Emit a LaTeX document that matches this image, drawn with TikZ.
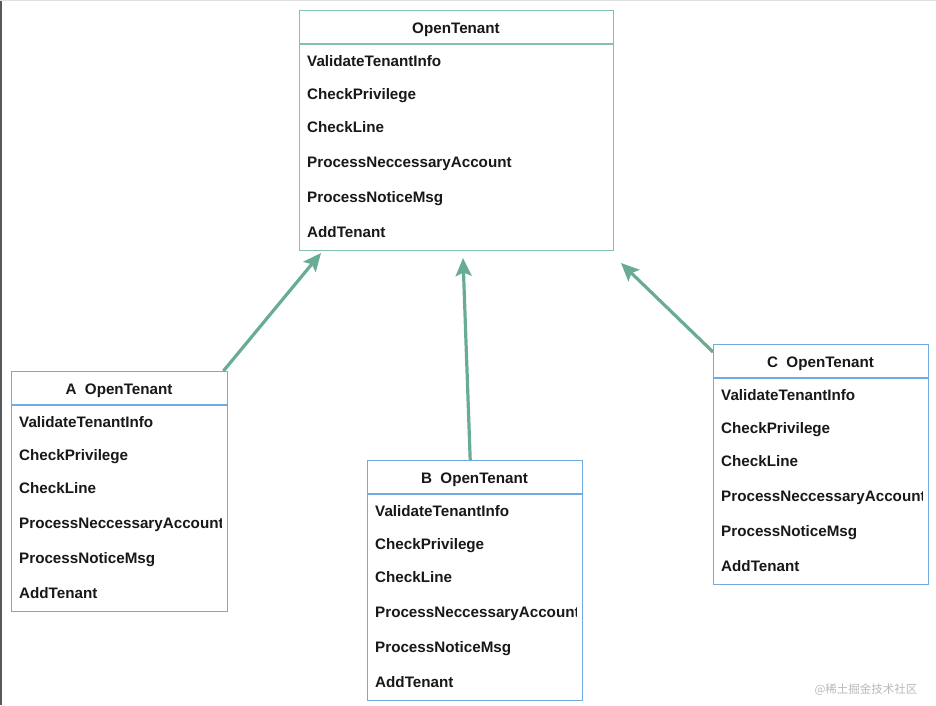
\documentclass[tikz,border=0pt]{standalone}
\usepackage{fontspec}
\setmainfont{Liberation Sans}
\newfontfamily\cjkfont{Noto Sans CJK SC}
\usetikzlibrary{arrows.meta,positioning}
\definecolor{greenline}{RGB}{132,192,172}
\definecolor{blueline}{RGB}{112,172,226}
\definecolor{flowgreen}{RGB}{104,172,150}
\definecolor{ink}{RGB}{24,24,24}

\begin{document}
\begin{tikzpicture}[x=1pt,y=-1pt,
  classbox/.style={draw=#1,line width=1.4pt,fill=white,rectangle,inner sep=0pt,
    minimum height=240pt,anchor=north west},
  boxtitle/.style={font=\fontsize{15.2}{18}\selectfont\bfseries,text=ink,inner sep=0pt,
    anchor=base},
  method/.style={font=\fontsize{15.2}{18}\selectfont\bfseries,text=ink,inner sep=0pt,
    anchor=base west},
  flow/.style={draw=flowgreen,line width=3.2pt,
    -{Stealth[length=18pt,width=16pt,inset=3.5pt]}}]
  \useasboundingbox (0,0) rectangle (936,705);
  % screen edges
  \draw[black!65,line width=2pt] (1,0) -- (1,705);
  \draw[black!12,line width=1pt] (0,0.5) -- (936,0.5);

  % the four OpenTenant boxes
  \foreach \n/\x/\y/\w/\t/\c in {top/299/10/314/OpenTenant/greenline,
      A/11/371/216/{A\ \ OpenTenant}/blueline,
      B/367/460/215/{B\ \ OpenTenant}/blueline,
      C/713/344/215/{C\ \ OpenTenant}/blueline}{
    \node[classbox=\c,minimum width=\w pt] (\n) at (\x,\y) {};
    \draw[\c,line width=1.4pt] (\x,\y+34) -- (\x+\w,\y+34);
    \node[boxtitle] (\n-title) at ({\x+\w/2},\y+23.5) {\t};
    \begin{scope}
      \clip (\x,\y) rectangle ({\x+\w-6},\y+240);
      \foreach \dy/\m [count=\k] in {56.5/ValidateTenantInfo,89.5/CheckPrivilege,
          122.5/CheckLine,157.5/ProcessNeccessaryAccount,192.5/ProcessNoticeMsg,
          227.5/AddTenant}{
        \node[method] (\n-\k) at (\x+8,\y+\dy) {\m};
      }
    \end{scope}
  }

  % arrows up to the common OpenTenant
  \coordinate (tipA) at (321,253);
  \coordinate (tipB) at (463,258);
  \coordinate (tipC) at (621,263);
  \draw[flow] ([xshift=-5pt]A.north east) -- (tipA);
  \draw[flow] ([xshift=-5pt]B.north) -- (tipB);
  \draw[flow] ([yshift=-8pt]C.north west) -- (tipC);

  \node[font=\cjkfont\fontsize{11.5}{13}\selectfont,text=black!28,anchor=east]
    (mark) at (921,690) {@稀土掘金技术社区};
\end{tikzpicture}
\end{document}
